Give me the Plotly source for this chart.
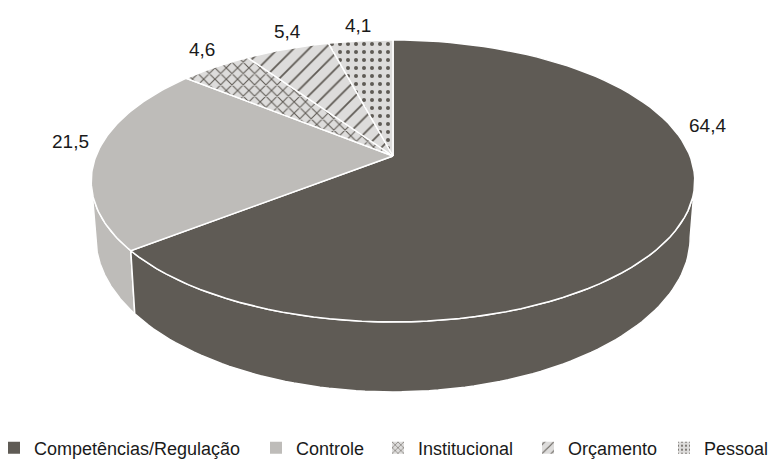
import numpy as np
import plotly.graph_objects as go

categories = ["Competências/Regulação", "Controle", "Institucional", "Orçamento", "Pessoal"]
values = [64.4, 21.5, 4.6, 5.4, 4.1]
value_labels = ["64,4", "21,5", "4,6", "5,4", "4,1"]

DARK = "#5f5b55"
LIGHT = "#bebcb9"
PALE = "#dddcdb"
INK = "#1a1a1a"
FONT = "Liberation Sans, Arial, sans-serif"

# disc geometry in page pixels, fitted to the perspective of the original
PERSP = 0.177
TOP = dict(cx=393, cy=156, a=297, b=136.6)
BOTTOM = dict(cx=393, cy=210, a=292.5, b=149.7)
LABEL_POS = [(707, 125), (70, 141), (202, 49), (287, 31), (358, 25)]
LEGEND_X = [-6, 256, 378, 528, 664]

PATTERNS = [
    None,
    None,
    dict(shape="x", size=8, solidity=0.25, fgcolor=DARK, fgopacity=1, bgcolor=PALE),
    dict(shape="/", size=11, solidity=0.16, fgcolor=DARK, fgopacity=1, bgcolor=PALE),
    dict(shape=".", size=8, solidity=0.2, fgcolor=DARK, fgopacity=1, bgcolor=PALE),
]
COLORS = [DARK, LIGHT, PALE, PALE, PALE]


def rim(disc, start, end, n=90):
    """Points on a disc rim, angles in radians clockwise from 12 o'clock."""
    t = np.linspace(start, end, n)
    d = 1 + PERSP * np.cos(t)
    x = disc["cx"] + disc["a"] * np.sin(t) / d
    y = disc["cy"] - disc["b"] * np.cos(t) / d
    return x, y


edges = np.cumsum([0] + values) / sum(values) * 2 * np.pi
# where the rim turns back: the wall is only visible between these two angles
wall_from = np.arccos(-PERSP)
wall_to = 2 * np.pi - wall_from

fig = go.Figure()

# --- Side wall, only the two front slices show ---
for i in [1, 0]:
    start = max(edges[i], wall_from)
    end = min(edges[i + 1], wall_to)
    tx, ty = rim(TOP, start, end)
    bx, by = rim(BOTTOM, end, start)
    fig.add_trace(
        go.Scatter(
            x=np.r_[tx, bx, tx[0]],
            y=np.r_[ty, by, ty[0]],
            mode="lines",
            fill="toself",
            fillcolor=COLORS[i],
            line=dict(color="white", width=1.5),
            hoverinfo="skip",
            showlegend=False,
        )
    )

# --- Top face ---
for i, name in enumerate(categories):
    x, y = rim(TOP, edges[i], edges[i + 1])
    kw = dict(fillpattern=PATTERNS[i]) if PATTERNS[i] else {}
    fig.add_trace(
        go.Scatter(
            x=np.r_[TOP["cx"], x, TOP["cx"]],
            y=np.r_[TOP["cy"], y, TOP["cy"]],
            mode="lines",
            fill="toself",
            fillcolor=COLORS[i],
            line=dict(color="white", width=1.5),
            name=name,
            text=value_labels[i],
            hoveron="fills",
            hoverinfo="name+text",
            showlegend=False,
            **kw,
        )
    )

# --- Legend, off-range bars so the swatches carry the patterns, one legend per entry ---
legends = {}
for i, name in enumerate(categories):
    marker = dict(color=COLORS[i], line=dict(width=0))
    if PATTERNS[i]:
        p = dict(PATTERNS[i])
        p["size"] = max(4, p["size"] - 3)
        marker["pattern"] = p
    key = "legend" if i == 0 else f"legend{i + 1}"
    fig.add_trace(go.Bar(x=[-500], y=[values[i]], name=name, marker=marker, hoverinfo="skip", legend=key))
    legends[key] = dict(
        x=LEGEND_X[i] / 769,
        xanchor="left",
        y=11 / 459,
        yanchor="middle",
        bgcolor="rgba(0,0,0,0)",
        itemclick=False,
        itemdoubleclick=False,
        font=dict(family=FONT, size=18, color=INK),
    )

for text, (lx, ly) in zip(value_labels, LABEL_POS):
    fig.add_annotation(x=lx, y=ly, text=text, showarrow=False, font=dict(family=FONT, size=19, color=INK))

fig.update_layout(
    width=769,
    height=459,
    margin=dict(l=0, r=0, t=0, b=0, autoexpand=False),
    paper_bgcolor="white",
    plot_bgcolor="white",
    font=dict(family=FONT, size=18, color=INK),
    xaxis=dict(range=[0, 769], visible=False, fixedrange=True),
    yaxis=dict(range=[459, 0], visible=False, fixedrange=True),
    **legends,
)

fig.write_html(
    "out.html",
    config=dict(displayModeBar=False),
    post_script="document.body.style.margin='0';document.body.style.overflow='hidden';",
)
